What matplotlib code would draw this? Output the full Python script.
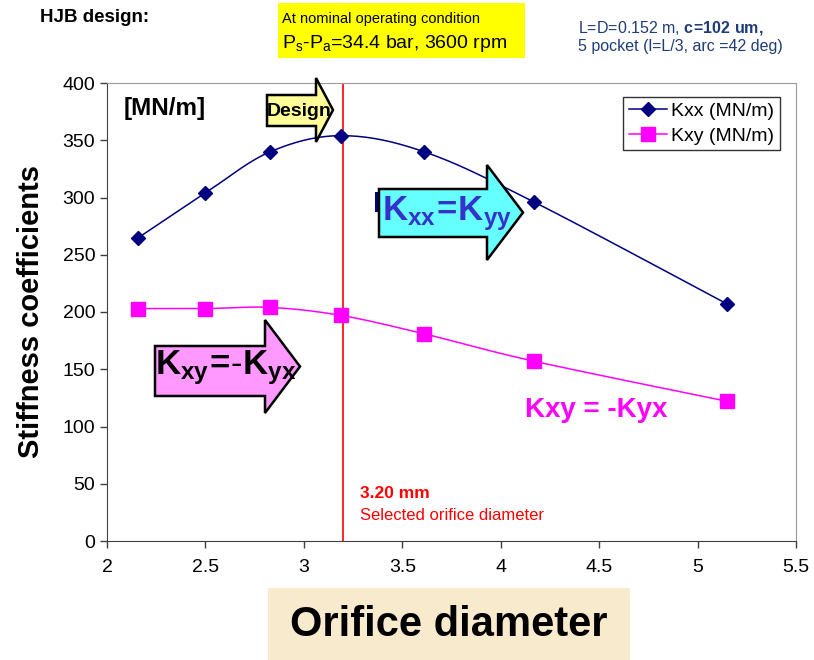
import numpy as np
import matplotlib.pyplot as plt
from matplotlib.patches import Polygon, Rectangle

plt.rcParams['font.family'] = ['Liberation Sans', 'DejaVu Sans']
plt.rcParams['mathtext.fontset'] = 'custom'
plt.rcParams['mathtext.rm'] = 'Liberation Sans'
plt.rcParams['mathtext.bf'] = 'Liberation Sans:bold'
plt.rcParams['mathtext.it'] = 'Liberation Sans:italic'

# data
diam = [2.16, 2.50, 2.83, 3.19, 3.61, 4.17, 5.15]
kxx = [265, 304, 340, 354, 340, 296, 207]
kxy = [203, 203, 204, 197, 181, 157, 122]
x_ticks = [2, 2.5, 3, 3.5, 4, 4.5, 5, 5.5]
y_ticks = [0, 50, 100, 150, 200, 250, 300, 350, 400]
selected = 3.20

W, H = 814, 660


def fx(px):
    return px / W


def fy(py):
    return 1 - py / H


def smooth(x, y, n=30):
    # catmull-rom like Excel "smoothed line"
    x = np.asarray(x, float)
    y = np.asarray(y, float)
    px = np.r_[x[0], x, x[-1]]
    py = np.r_[y[0], y, y[-1]]
    t = np.linspace(0, 1, n)
    xs, ys = [], []
    for i in range(1, len(px) - 2):
        for p, out in ((px, xs), (py, ys)):
            p0, p1, p2, p3 = p[i - 1], p[i], p[i + 1], p[i + 2]
            out.append(0.5 * ((2 * p1) + (-p0 + p2) * t
                              + (2 * p0 - 5 * p1 + 4 * p2 - p3) * t ** 2
                              + (-p0 + 3 * p1 - 3 * p2 + p3) * t ** 3))
    return np.concatenate(xs), np.concatenate(ys)


def block_arrow(x0, x1, xh, yb0, yb1, yh0, yh1, fc):
    ym = (yh0 + yh1) / 2
    pts = [(x0, yb0), (xh, yb0), (xh, yh0), (x1, ym), (xh, yh1), (xh, yb1), (x0, yb1)]
    pts = [(fx(a), fy(b)) for a, b in pts]
    fig.patches.append(Polygon(pts, closed=True, fc=fc, ec='black', lw=1.8,
                               transform=fig.transFigure, zorder=5))


fig = plt.figure(figsize=(W / 100, H / 100), dpi=100)
ax = fig.add_axes([fx(107), fy(541), (796 - 107) / W, (541 - 83) / H])

sx, sy = smooth(diam, kxx)
ax.plot(sx, sy, color='#000080', lw=1.1, zorder=3)
ax.plot(diam, kxx, ls='none', marker='D', ms=7.5, color='#000080', zorder=4)
sx, sy = smooth(diam, kxy)
ax.plot(sx, sy, color='#ff00ff', lw=1.1, zorder=3)
ax.plot(diam, kxy, ls='none', marker='s', ms=9.5, color='#ff00ff', zorder=4)

# legend proxies
ax.plot([], [], color='#000080', marker='D', ms=7.5, lw=1.1, label='Kxx (MN/m)')
ax.plot([], [], color='#ff00ff', marker='s', ms=9.5, lw=1.1, label='Kxy (MN/m)')
leg = ax.legend(loc='upper right', bbox_to_anchor=(0.977, 0.97), fontsize=14,
                frameon=True, fancybox=False, edgecolor='black', handlelength=2.0,
                borderpad=0.3, labelspacing=0.35, handletextpad=0.2, borderaxespad=0)
leg.get_frame().set_linewidth(1.0)

ax.axvline(selected, color='#ff0000', lw=1.2, zorder=2)

ax.set_xlim(2, 5.5)
ax.set_ylim(0, 400)
ax.set_xticks(x_ticks)
ax.set_xticklabels([f'{v:g}' for v in x_ticks])
ax.set_yticks(y_ticks)
ax.tick_params(labelsize=14, length=5, width=1, color='#404040', direction='out')
ax.tick_params(axis='x', pad=8)
for s in ['left', 'bottom']:
    ax.spines[s].set_color('#404040')
for s in ['top', 'right']:
    ax.spines[s].set_color('#9a9a9a')

fig.text(fx(31), fy(312), 'Stiffness coefficients', rotation=90, fontsize=21,
         fontweight='bold', ha='center', va='center')

# x label with beige background
fig.patches.append(Rectangle((fx(268), fy(660)), (630 - 268) / W, (660 - 588) / H,
                             fc='#f8eacd', ec='none', transform=fig.transFigure, zorder=0))
fig.text(fx(449), fy(625), 'Orifice diameter', fontsize=30, fontweight='bold',
         ha='center', va='center')

# header
fig.text(fx(40), fy(18), 'HJB design:', fontsize=13.5, fontweight='bold', ha='left', va='center')
fig.patches.append(Rectangle((fx(278), fy(58)), (525 - 278) / W, (58 - 3) / H,
                             fc='#ffff00', ec='none', transform=fig.transFigure))
fig.text(fx(282), fy(19), 'At nominal operating condition', fontsize=10.5,
         ha='left', va='center')
fig.text(fx(282), fy(43), r'P$_{\mathrm{s}}$-P$_{\mathrm{a}}$=34.4 bar, 3600 rpm', fontsize=14,
         ha='left', va='center')
fig.text(fx(578), fy(28), r'L=D=0.152 m, $\mathbf{c\!=\!102\ um,}$', fontsize=11.5,
         color='#1f3c78', ha='left', va='center')
fig.text(fx(578), fy(46), '5 pocket (l=L/3, arc =42 deg)', fontsize=11.5, color='#1f3c78',
         ha='left', va='center')

fig.text(fx(124), fy(108), '[MN/m]', fontsize=17.5, fontweight='bold', ha='left', va='center')

# block arrows
block_arrow(267, 333, 316, 95, 126, 78, 142, '#ffff99')
fig.text(fx(299), fy(112), 'Design', fontsize=14, fontweight='bold', ha='center',
         va='center', zorder=6)

fig.patches.append(Rectangle((fx(375), fy(212)), 5 / W, 20 / H, fc='#000080', ec='none',
                             transform=fig.transFigure, zorder=4))
block_arrow(379, 523, 487, 189, 237, 165, 260, '#66ffff')
fig.text(fx(447), fy(214), r'$\mathbf{K_{xx}\!=\!K_{yy}}$', fontsize=25, color='#3333cc',
         ha='center', va='center', zorder=6)

block_arrow(155, 300, 265, 346, 396, 320, 413, '#ff99ff')
fig.text(fx(226), fy(368), r'$\mathbf{K_{xy}\!=\!\text{-}K_{yx}}$', fontsize=25, color='black',
         ha='center', va='center', zorder=6)

fig.text(fx(596), fy(410), 'Kxy = -Kyx', fontsize=20, fontweight='bold', color='#ff00ff',
         ha='center', va='center')

fig.text(fx(360), fy(493), '3.20 mm', fontsize=12.5, fontweight='bold', color='#ff0000',
         ha='left', va='center')
fig.text(fx(360), fy(516), 'Selected orifice diameter', fontsize=12, color='#ff0000',
         ha='left', va='center')

fig.savefig('out.png', dpi=100)
